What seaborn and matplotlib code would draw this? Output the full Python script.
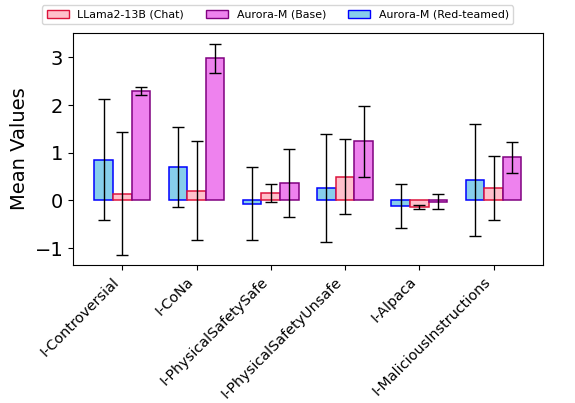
import numpy as np
import pandas as pd
import matplotlib
matplotlib.use("Agg")
import matplotlib.pyplot as plt
import seaborn as sns
from matplotlib.patches import Patch

# categories and series (mean, std)
categories = ["I-Controversial", "I-CoNa", "I-PhysicalSafetySafe",
              "I-PhysicalSafetyUnsafe", "I-Alpaca", "I-MaliciousInstructions"]

redteamed_mean = [0.85, 0.69, -0.07, 0.26, -0.12, 0.43]
redteamed_err = [1.27, 0.84, 0.76, 1.13, 0.46, 1.18]

llama_mean = [0.14, 0.20, 0.15, 0.50, -0.14, 0.25]
llama_err = [1.29, 1.04, 0.19, 0.78, 0.045, 0.67]

base_mean = [2.29, 2.98, 0.37, 1.24, -0.025, 0.90]
base_err = [0.09, 0.31, 0.71, 0.74, 0.15, 0.33]

models = ["Aurora-M (Red-teamed)", "LLama2-13B (Chat)", "Aurora-M (Base)"]
face = {"Aurora-M (Red-teamed)": "skyblue",
        "LLama2-13B (Chat)": "pink",
        "Aurora-M (Base)": "violet"}
edge = {"Aurora-M (Red-teamed)": "blue",
        "LLama2-13B (Chat)": "crimson",
        "Aurora-M (Base)": "purple"}

means = [redteamed_mean, llama_mean, base_mean]
errs = [redteamed_err, llama_err, base_err]

df = pd.DataFrame({
    "category": categories * 3,
    "model": np.repeat(models, len(categories)),
    "mean": np.concatenate(means),
    "err": np.concatenate(errs),
})

fig, ax = plt.subplots(figsize=(5.75, 4.03), dpi=100)
fig.subplots_adjust(left=0.127, right=0.944, top=0.918, bottom=0.342)

sns.barplot(data=df, x="category", y="mean", hue="model", hue_order=models,
            order=categories, palette=face, saturation=1, width=0.75,
            errorbar=None, linewidth=1.1, ax=ax)

# edge colours and error bars per series
for cont, m in zip(ax.containers, models):
    sub = df[df["model"] == m].set_index("category").loc[categories]
    xs = []
    for bar in cont:
        bar.set_edgecolor(edge[m])
        xs.append(bar.get_x() + bar.get_width() / 2)
    ax.errorbar(xs, sub["mean"], yerr=sub["err"], fmt="none",
                ecolor="black", elinewidth=1, capsize=4, capthick=1)

ax.set_xlim(-0.6625, 5.6625)
ax.set_ylim(-1.36, 3.51)
ax.set_yticks([-1, 0, 1, 2, 3])
ax.set_xlabel("")
ax.set_ylabel("Mean Values", fontsize=14)
ax.tick_params(axis="y", labelsize=14)
ax.tick_params(axis="x", labelsize=10.4)
plt.setp(ax.get_xticklabels(), rotation=45, ha="right")

ax.get_legend().remove()
leg_order = ["LLama2-13B (Chat)", "Aurora-M (Base)", "Aurora-M (Red-teamed)"]
handles = [Patch(facecolor=face[m], edgecolor=edge[m], label=m)
           for m in leg_order]
fig.legend(handles=handles, loc="upper center", ncol=3, fontsize=7.9,
           bbox_to_anchor=(0.483, 1.0), frameon=True)

fig.savefig("out.png", dpi=100)
plt.close(fig)
